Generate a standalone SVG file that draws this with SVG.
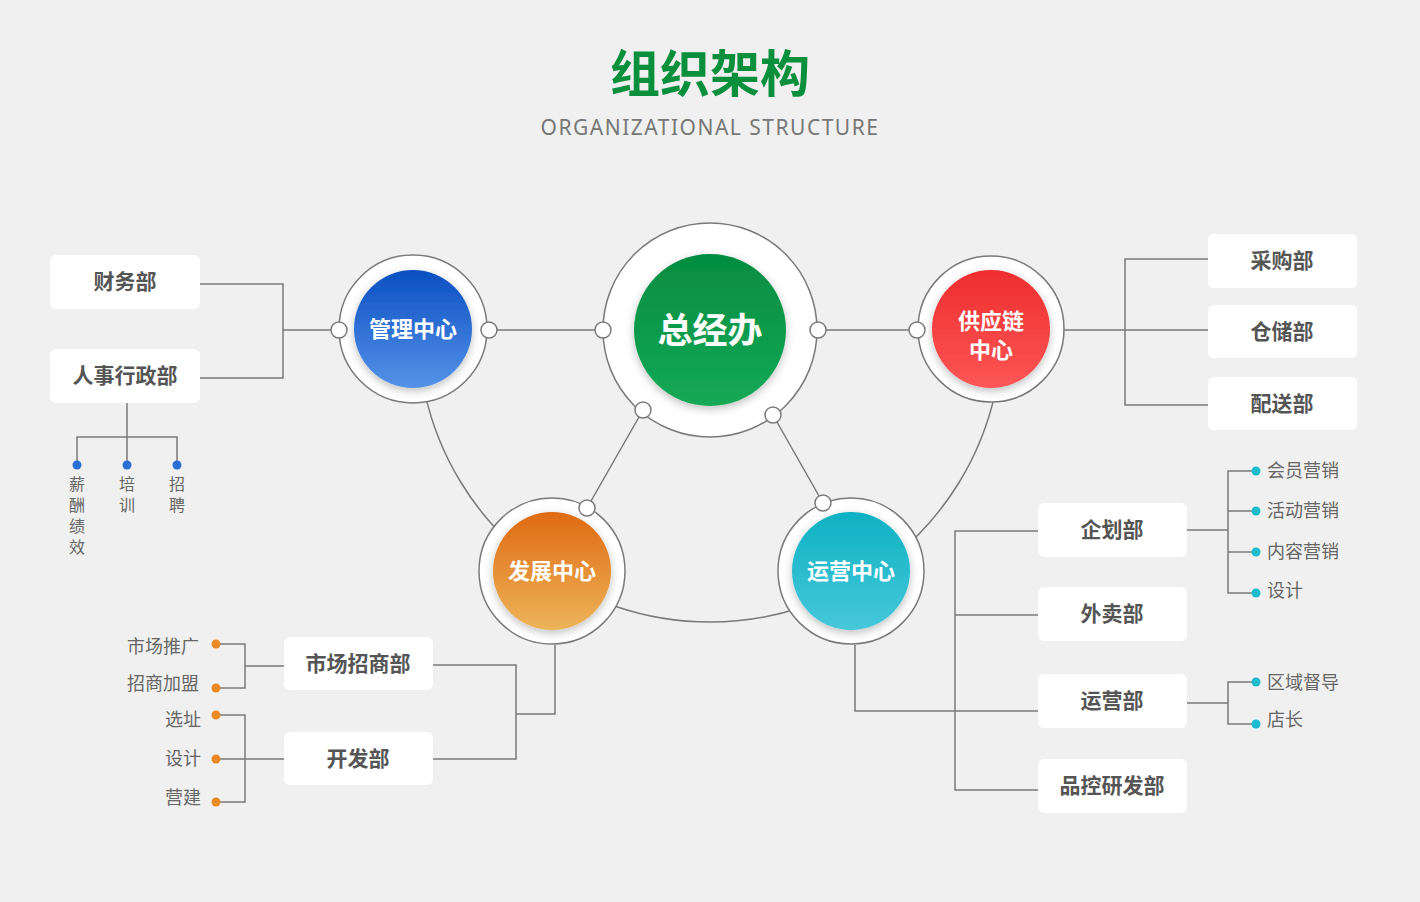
<svg xmlns="http://www.w3.org/2000/svg" width="1420" height="902" viewBox="0 0 1420 902">
<defs>
<linearGradient id="gG" x1="0" y1="0" x2="0" y2="1"><stop offset="0" stop-color="#058c41"/><stop offset="1" stop-color="#14a957"/></linearGradient>
<linearGradient id="gB" x1="0" y1="0" x2="0" y2="1"><stop offset="0" stop-color="#0b4fc2"/><stop offset="1" stop-color="#5592e8"/></linearGradient>
<linearGradient id="gR" x1="0" y1="0" x2="0" y2="1"><stop offset="0" stop-color="#ee2d2d"/><stop offset="1" stop-color="#fc5656"/></linearGradient>
<linearGradient id="gO" x1="0" y1="0" x2="0" y2="1"><stop offset="0" stop-color="#df6a12"/><stop offset="1" stop-color="#edb45a"/></linearGradient>
<linearGradient id="gC" x1="0" y1="0" x2="0" y2="1"><stop offset="0" stop-color="#0eb1c3"/><stop offset="1" stop-color="#46c8da"/></linearGradient>
<filter id="sh" x="-30%" y="-30%" width="160%" height="160%"><feDropShadow dx="0" dy="3" stdDeviation="4" flood-color="#000" flood-opacity="0.25"/></filter>
</defs>
<style>
.ln{fill:none;stroke:#7a7a7a;stroke-width:1.5}
.ring{fill:#fff;stroke:#7a7a7a;stroke-width:1.5}
.kn{fill:#fff;stroke:#7a7a7a;stroke-width:1.5}
.box{fill:#fff}
.bt{font-family:"Noto Sans CJK SC",sans-serif;font-weight:700;font-size:21px;fill:#555;text-anchor:middle}
.ct{font-family:"Noto Sans CJK SC",sans-serif;font-weight:700;font-size:22px;fill:#fff;text-anchor:middle}
.big{font-size:35px}
.st{font-family:"Noto Sans CJK SC",sans-serif;font-size:18px;fill:#666}
.vt{font-family:"Noto Sans CJK SC",sans-serif;font-size:16px;fill:#666;writing-mode:vertical-rl;letter-spacing:5px}
.db{fill:#2a6fd6}.do{fill:#e98a25}.dc{fill:#1fbccf}
</style>
<rect width="1420" height="902" fill="#f0f0f0"/>
<text x="710" y="92" font-family="Noto Sans CJK SC,sans-serif" font-weight="700" font-size="50" fill="#0a8f3c" text-anchor="middle">组织架构</text>
<text x="710" y="135" font-family="Noto Sans,sans-serif" font-size="21" fill="#777" text-anchor="middle" letter-spacing="1.5">ORGANIZATIONAL STRUCTURE</text>

<g id="connectors">
<path class="ln" d="M425,393.6 A292,292 0 0 0 995,393.6"/>
<path class="ln" d="M489,330 H917 M643,410 L587,508 M773,415 L823,503"/>
<path class="ln" d="M200,284 H283 V378 H200 M283,330 H339"/>
<path class="ln" d="M127,403 V465 M77,465 V437 H177 V465"/>
<path class="ln" d="M1064,330 H1208 M1208,259 H1125 V405 H1208"/>
<path class="ln" d="M855,645 V711 H1038 M1038,531 H955 V790 H1038 M955,615 H1038"/>
<path class="ln" d="M1187,530 H1228 M1256,471 H1228 V593 H1256 M1228,511 H1256 M1228,552 H1256"/>
<path class="ln" d="M1187,703 H1228 M1256,682 H1228 V724 H1256"/>
<path class="ln" d="M555,645 V714 H516 M433,665 H516 V759 H433"/>
<path class="ln" d="M284,666 H245 M216,644 H245 V688 H216 M284,759 H216 M216,715 H245 V802 H216"/>
</g>

<g id="n-zjb"><circle class="ring" cx="710" cy="330" r="107"/><circle cx="710" cy="330" r="76" fill="url(#gG)" filter="url(#sh)"/><text class="ct big" x="710" y="343">总经办</text></g>
<g id="n-gl"><circle class="ring" cx="413" cy="329" r="74"/><circle cx="413" cy="329" r="59" fill="url(#gB)" filter="url(#sh)"/><text class="ct" x="413" y="337">管理中心</text></g>
<g id="n-gyl"><circle class="ring" cx="991" cy="329" r="73"/><circle cx="991" cy="329" r="59" fill="url(#gR)" filter="url(#sh)"/><text class="ct" x="991" y="329">供应链</text><text class="ct" x="991" y="358">中心</text></g>
<g id="n-fz"><circle class="ring" cx="552" cy="571" r="73"/><circle cx="552" cy="571" r="59" fill="url(#gO)" filter="url(#sh)"/><text class="ct" x="552" y="579">发展中心</text></g>
<g id="n-yy"><circle class="ring" cx="851" cy="571" r="73"/><circle cx="851" cy="571" r="59" fill="url(#gC)" filter="url(#sh)"/><text class="ct" x="851" y="579">运营中心</text></g>

<g id="knots">
<circle class="kn" cx="339" cy="330" r="8"/><circle class="kn" cx="489" cy="330" r="8"/><circle class="kn" cx="603" cy="330" r="8"/><circle class="kn" cx="818" cy="330" r="8"/><circle class="kn" cx="917" cy="330" r="8"/><circle class="kn" cx="643" cy="410" r="8"/><circle class="kn" cx="773" cy="415" r="8"/><circle class="kn" cx="587" cy="508" r="8"/><circle class="kn" cx="823" cy="503" r="8"/>
</g>

<g id="n-cw"><rect class="box" x="50" y="255" width="150" height="54" rx="6"/><text class="bt" x="125" y="289">财务部</text></g>
<g id="n-rs"><rect class="box" x="50" y="349" width="150" height="54" rx="6"/><text class="bt" x="125" y="383">人事行政部</text></g>
<g id="n-hr-sub">
<circle class="db" cx="77" cy="465" r="4.5"/><circle class="db" cx="127" cy="465" r="4.5"/><circle class="db" cx="177" cy="465" r="4.5"/>
<text class="vt" x="77" y="476">薪酬绩效</text>
<text class="vt" x="127" y="476">培训</text>
<text class="vt" x="177" y="476">招聘</text>
</g>

<g id="n-cg"><rect class="box" x="1208" y="234" width="149" height="54" rx="6"/><text class="bt" x="1282" y="268">采购部</text></g>
<g id="n-cc"><rect class="box" x="1208" y="305" width="149" height="53" rx="6"/><text class="bt" x="1282" y="339">仓储部</text></g>
<g id="n-ps"><rect class="box" x="1208" y="377" width="149" height="53" rx="6"/><text class="bt" x="1282" y="411">配送部</text></g>

<g id="n-qh"><rect class="box" x="1038" y="503" width="149" height="54" rx="6"/><text class="bt" x="1112" y="537">企划部</text></g>
<g id="n-wm"><rect class="box" x="1038" y="587" width="149" height="54" rx="6"/><text class="bt" x="1112" y="621">外卖部</text></g>
<g id="n-yyb"><rect class="box" x="1038" y="674" width="149" height="54" rx="6"/><text class="bt" x="1112" y="708">运营部</text></g>
<g id="n-pk"><rect class="box" x="1038" y="759" width="149" height="54" rx="6"/><text class="bt" x="1112" y="793">品控研发部</text></g>
<g id="n-ops-sub">
<circle class="dc" cx="1256" cy="471" r="4.5"/><circle class="dc" cx="1256" cy="511" r="4.5"/><circle class="dc" cx="1256" cy="552" r="4.5"/><circle class="dc" cx="1256" cy="593" r="4.5"/><circle class="dc" cx="1256" cy="682" r="4.5"/><circle class="dc" cx="1256" cy="724" r="4.5"/>
<text class="st" x="1267" y="477">会员营销</text><text class="st" x="1267" y="517">活动营销</text><text class="st" x="1267" y="558">内容营销</text><text class="st" x="1267" y="597">设计</text><text class="st" x="1267" y="689">区域督导</text><text class="st" x="1267" y="726">店长</text>
</g>

<g id="n-sc"><rect class="box" x="284" y="637" width="149" height="53" rx="6"/><text class="bt" x="358" y="671">市场招商部</text></g>
<g id="n-kf"><rect class="box" x="284" y="732" width="149" height="53" rx="6"/><text class="bt" x="358" y="766">开发部</text></g>
<g id="n-dev-sub">
<circle class="do" cx="216" cy="644" r="4.5"/><circle class="do" cx="216" cy="688" r="4.5"/><circle class="do" cx="216" cy="715" r="4.5"/><circle class="do" cx="216" cy="759" r="4.5"/><circle class="do" cx="216" cy="802" r="4.5"/>
<g text-anchor="end"><text class="st" x="199" y="653">市场推广</text><text class="st" x="199" y="690">招商加盟</text><text class="st" x="201" y="726">选址</text><text class="st" x="201" y="765">设计</text><text class="st" x="201" y="804">营建</text></g>
</g>
</svg>
